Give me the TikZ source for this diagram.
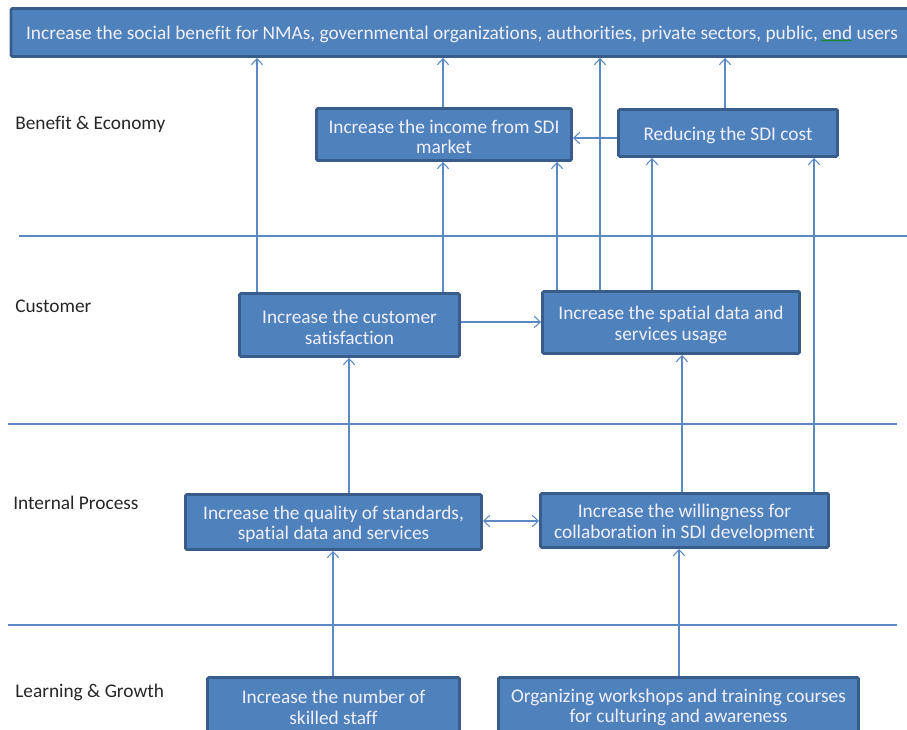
\documentclass[tikz,border=0pt]{standalone}
\usepackage{fontspec}
\setmainfont{Carlito}[Ligatures=NoCommon]
\usetikzlibrary{arrows.meta,decorations.pathmorphing}
\definecolor{boxfill}{HTML}{4F81BD}
\definecolor{boxline}{HTML}{385D8A}
\definecolor{linkcol}{HTML}{5B89C4}
\newcommand\lift{\rule{0pt}{13.5pt}}

\begin{document}
\begin{tikzpicture}[x=0.75pt,y=-0.75pt,>={Straight Barb[length=4.5pt,width=8.5pt]},
  goal/.style={draw=boxline,line width=2.2pt,fill=boxfill,text=white!94!blue,
    rounded corners=1pt,inner sep=0pt,align=center,
    font=\fontsize{14.5}{15.5}\selectfont},
  lane/.style={anchor=west,inner sep=0pt,text=black!85,
    font=\fontsize{14.5}{16}\selectfont},
  link/.style={linkcol,line width=0.8pt,->},
  sep/.style={linkcol,line width=0.8pt}]
  \clip (0,0) rectangle (907,730);

  % lanes
  \draw[sep] (19,236) -- (907,236);
  \draw[sep] (8,424) -- (897,424);
  \draw[sep] (8,625) -- (897,625);
  \node[lane] (benefit) at (15,124) {Benefit \& Economy};
  \node[lane] (customer) at (15,306) {Customer};
  \node[lane] (internal) at (13,503) {Internal Process};
  \node[lane] (learning) at (15,692) {Learning \& Growth};

  % goals
  \node[goal,minimum width=676.5pt,minimum height=36pt] (top) at (462,32.5)
    {\lift Increase the social benefit for NMAs, governmental organizations, authorities, private sectors, public, end users};
  \node[goal,minimum width=191.25pt,minimum height=39pt] (income) at (444,134.5)
    {\lift Increase the income from SDI\\market};
  \node[goal,minimum width=164.25pt,minimum height=35.25pt] (cost) at (728,133)
    {\lift Reducing the SDI cost};
  \node[goal,minimum width=165pt,minimum height=47.25pt] (satisf) at (349.5,325)
    {\lift Increase the customer\\satisfaction};
  \node[goal,minimum width=192.75pt,minimum height=46.5pt] (usage) at (671,322.5)
    {\lift Increase the spatial data and\\services usage};
  \node[goal,minimum width=222pt,minimum height=41.25pt] (quality) at (333.5,522)
    {\lift Increase the quality of standards,\\spatial data and services};
  \node[goal,minimum width=216pt,minimum height=40.5pt] (willing) at (684.5,520.5)
    {\lift Increase the willingness for\\collaboration in SDI development};
  \node[goal,minimum width=189pt,minimum height=41.25pt] (staff) at (333.5,705)
    {\lift Increase the number of\\skilled staff};
  \node[goal,minimum width=270pt,minimum height=41.25pt] (work) at (678.5,705)
    {\lift Organizing workshops and training courses\\for culturing and awareness};

  % spell check mark under "end"
  \draw[green!55!black,line width=0.5pt,decorate,
    decoration={snake,amplitude=0.5pt,segment length=2.5pt}]
    (821,40.5) -- (851,40.5);

  % links
  \draw[link] (satisf.north -| 257,0) -- (top.south -| 257,0);
  \draw[link] (income.north -| 443,0) -- (top.south -| 443,0);
  \draw[link] (usage.north -| 600,0) -- (top.south -| 600,0);
  \draw[link] (cost.north -| 725,0) -- (top.south -| 725,0);
  \draw[link] (cost.west |- 0,138) -- (income.east |- 0,138);
  \draw[link] (satisf.north -| 443,0) -- (income.south -| 443,0);
  \draw[link] (usage.north -| 557,0) -- (income.south -| 557,0);
  \draw[link] (usage.north -| 652,0) -- (cost.south -| 652,0);
  \draw[link] (willing.north -| 814,0) -- (cost.south -| 814,0);
  \draw[link] (satisf.east |- 0,322) -- (usage.west |- 0,322);
  \draw[link] (quality.north -| 349,0) -- (satisf.south -| 349,0);
  \draw[link] (willing.north -| 682,0) -- (usage.south -| 682,0);
  \draw[link,<->] (quality.east |- 0,521) -- (willing.west |- 0,521);
  \draw[link] (staff.north -| 333,0) -- (quality.south -| 333,0);
  \draw[link] (work.north -| 679,0) -- (willing.south -| 679,0);
\end{tikzpicture}
\end{document}
